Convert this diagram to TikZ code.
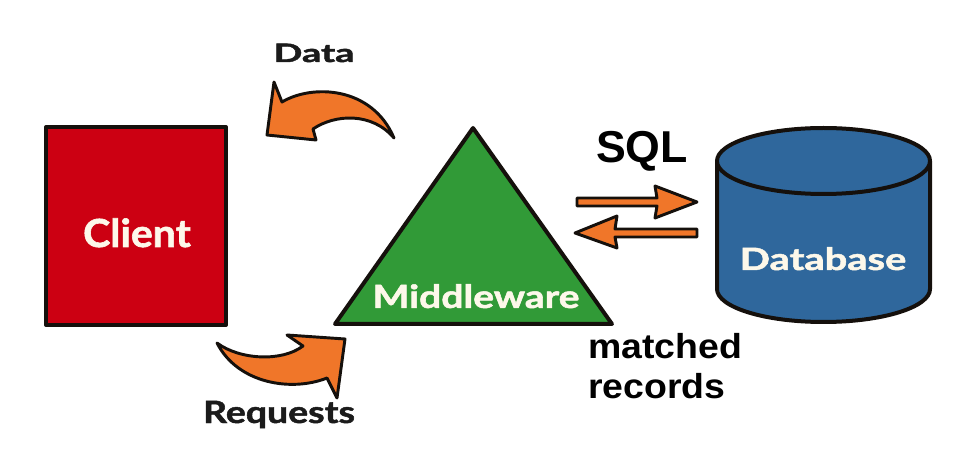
\documentclass[tikz,border=0pt]{standalone}
\usepackage{fontspec}
\setmainfont{Liberation Sans}
\newfontfamily\gillFont[BoldFeatures={FakeBold=1.5}]{Lato}
\usepackage{tikz}

\definecolor{clientRed}{HTML}{CC0012}
\definecolor{middleGreen}{HTML}{319A37}
\definecolor{dbBlue}{HTML}{2F679C}
\definecolor{flowOrange}{HTML}{F07629}
\definecolor{edgeDark}{HTML}{15100C}
\definecolor{labelWhite}{HTML}{FDF8EA}
\definecolor{textDark}{HTML}{1B1B1B}

\begin{document}
\begin{tikzpicture}[x=0.75pt, y=-0.75pt,
        outline/.style={draw=edgeDark, line width=3pt, line join=round},
        flow/.style={fill=flowOrange, draw=edgeDark, line width=2.2pt, line join=round},
        gillText/.style={font=\gillFont\bfseries\fontsize{#1}{#1}\selectfont,
            text=textDark, inner sep=0pt, anchor=base},
        inside/.style={gillText=#1, text=labelWhite},
        arialText/.style={font=\bfseries\fontsize{#1}{30}\selectfont,
            text=black, inner sep=0pt, anchor=base}]
        \pgfmathsetmacro{\dbLeft}{717}
        \pgfmathsetmacro{\dbRight}{930}
        \pgfmathsetmacro{\dbTop}{161}
        \pgfmathsetmacro{\dbBottom}{289}
        \pgfmathsetmacro{\dbRadiusX}{(\dbRight - \dbLeft)/2}
        \pgfmathsetmacro{\dbRadiusY}{33}

        \useasboundingbox (0, 0) rectangle (977, 466);

        \node[outline, fill=clientRed, minimum width=135pt, minimum height=148.5pt]
            (client) at (136, 226) {};
        \node[inside=29, xscale=1.06] (clientText) at (137, 247) {Client};

        \coordinate (apex) at (473, 128);
        \coordinate (baseRight) at (612, 324);
        \coordinate (baseLeft) at (335, 324);
        \draw[outline, fill=middleGreen] (apex) -- (baseRight) -- (baseLeft) -- cycle;
        \node[inside=24, xscale=1.22] (middleware) at (476, 308) {Middleware};

        \draw[outline, fill=dbBlue] (\dbLeft, \dbTop) -- (\dbLeft, \dbBottom)
            arc[start angle=180, end angle=0, x radius=\dbRadiusX, y radius=\dbRadiusY]
            -- (\dbRight, \dbTop);
        \draw[outline, fill=dbBlue] (\dbLeft + \dbRadiusX, \dbTop)
            ellipse[x radius=\dbRadiusX, y radius=\dbRadiusY];
        \node[inside=23, xscale=1.3] (database) at (823, 270) {Database};

        \coordinate (sqlOut) at (577, 202);
        \coordinate (recordsIn) at (575, 233);
        \begin{scope}[shift={(sqlOut)}]
            \draw[flow] (0, -4) -- (80, -4) -- (78, -16) -- (120, 0) -- (78, 16)
                -- (80, 4) -- (0, 4) -- cycle;
        \end{scope}
        \begin{scope}[shift={(recordsIn)}]
            \draw[flow] (0, 0) -- (42, -17) -- (40, -4) -- (122, -4) -- (122, 4)
                -- (40, 4) -- (42, 15) -- cycle;
        \end{scope}
        \node[arialText=33.5] (sql) at (642, 163) {SQL};
        \node[arialText=26, anchor=north west, align=left, xscale=1.08]
            (records) at (588, 333) {matched\\records};

        \draw[flow] (274, 82) -- (267, 135) -- (316, 140) -- (313, 129)
            .. controls (335, 114) and (372, 112) .. (394, 138)
            .. controls (372, 86) and (312, 84) .. (282, 102) -- cycle;
        \node[gillText=19, xscale=1.5] (data) at (314, 62) {Data};

        \draw[flow] (217, 343) .. controls (240, 360) and (282, 362) .. (303, 346)
            -- (287, 335) -- (345, 339) -- (337, 398) -- (327, 378)
            .. controls (292, 392) and (238, 384) .. (217, 343) -- cycle;
        \node[gillText=23, xscale=1.22] (requests) at (279, 423) {Requests};
    \end{tikzpicture}
\end{document}
